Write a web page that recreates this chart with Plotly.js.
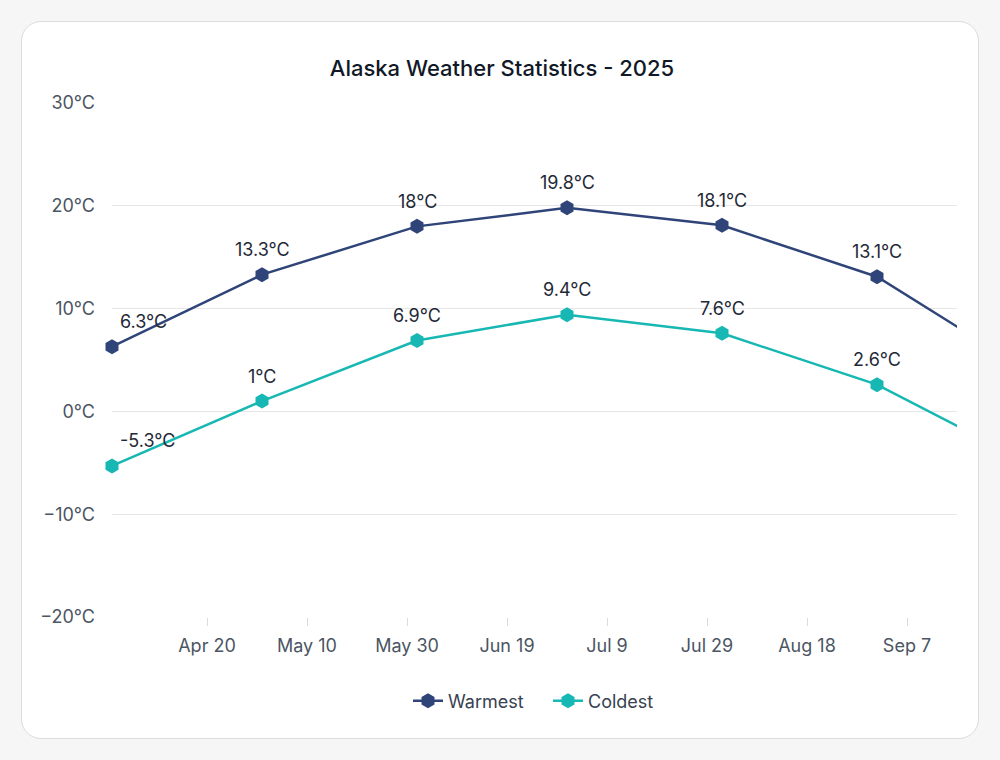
<!DOCTYPE html>
<html>
<head>
<meta charset="utf-8">
<script src="https://cdn.plot.ly/plotly-3.0.1.min.js"></script>
<style>
  html, body { margin: 0; padding: 0; background: #f6f6f6; }
  #card {
    position: absolute; left: 21px; top: 21px; width: 956px; height: 716px;
    background: #ffffff; border: 1.5px solid #dcdcdc; border-radius: 20px;
  }
  #chart { position: absolute; left: 0; top: 0; width: 1000px; height: 760px; }
</style>
</head>
<body>
<div id="card"></div>
<div id="chart"></div>
<script>
// monthly readings, 2025
const dates = ['2025-04-01', '2025-05-01', '2025-06-01', '2025-07-01', '2025-08-01', '2025-09-01', '2025-10-01']
const warmest = [6.3, 13.3, 18, 19.8, 18.1, 13.1, 4.0]
const coldest = [-5.3, 1, 6.9, 9.4, 7.6, 2.6, -4.9]
const seriesNames = ['Warmest', 'Coldest']
const seriesColors = ['#2f4478', '#17b8b3']

const FONT = 'Inter, "Noto Sans", sans-serif'
const xEnd = '2025-09-17'

function makeTrace(y, i) {
    return {
        x: dates,
        y: y,
        name: seriesNames[i],
        type: 'scatter',
        mode: 'lines+markers',
        line: {color: seriesColors[i], width: 2.5},
        marker: {symbol: 'hexagon', size: 15, color: seriesColors[i]},
        cliponaxis: false,
        hoverinfo: 'skip'
    }
}

// value labels above each point (first one pushed right so it stays inside)
function makeLabels(y) {
    return y.map((v, k) => ({
        x: dates[k],
        y: v,
        xref: 'x',
        yref: 'y',
        text: v + '°C',
        showarrow: false,
        xanchor: k === 0 ? 'left' : 'center',
        xshift: k === 0 ? 6 : 0,
        yshift: 25,
        font: {family: FONT, size: 18, color: '#1f2937'}
    })).filter(a => a.x <= xEnd)
}

let traces = [makeTrace(warmest, 0), makeTrace(coldest, 1)]

let layout = {
    width: 1000,
    height: 760,
    paper_bgcolor: 'rgba(0,0,0,0)',
    plot_bgcolor: 'rgba(0,0,0,0)',
    margin: {l: 112, r: 43, t: 103, b: 143},
    font: {family: FONT, size: 18, color: '#4b5563'},

    title: {
        text: 'Alaska Weather Statistics - 2025',
        x: 0.502,
        xref: 'container',
        xanchor: 'center',
        y: 1 - 68 / 760,
        yref: 'container',
        yanchor: 'middle',
        font: {family: FONT, size: 22, color: '#111827', weight: 500}
    },

    xaxis: {
        type: 'date',
        range: ['2025-04-01', xEnd],
        tick0: '2025-04-20',
        dtick: 20 * 86400000,
        tickformat: '%b %-d',
        showgrid: false,
        zeroline: false,
        showline: false,
        ticks: 'outside',
        ticklen: 8,
        tickcolor: '#dcdcdc',
        ticklabelstandoff: 4,
        tickfont: {family: FONT, size: 18, color: '#4b5563'}
    },

    yaxis: {
        range: [-20, 30],
        dtick: 10,
        ticksuffix: '°C',
        showgrid: true,
        gridcolor: '#e6e6e6',
        gridwidth: 1,
        zeroline: false,
        showline: false,
        ticks: '',
        ticklabelstandoff: 16,
        tickfont: {family: FONT, size: 18, color: '#4b5563'}
    },

    showlegend: true,
    legend: {
        orientation: 'h',
        x: 0.548,
        xanchor: 'center',
        xref: 'container',
        y: 1 - 701 / 760,
        yref: 'container',
        yanchor: 'middle',
        font: {family: FONT, size: 18, color: '#374151'},
        itemwidth: 30,
        entrywidth: 95
    },

    annotations: makeLabels(warmest).concat(makeLabels(coldest))
}

Plotly.newPlot('chart', traces, layout, {displayModeBar: false, staticPlot: true})
</script>
</body>
</html>
